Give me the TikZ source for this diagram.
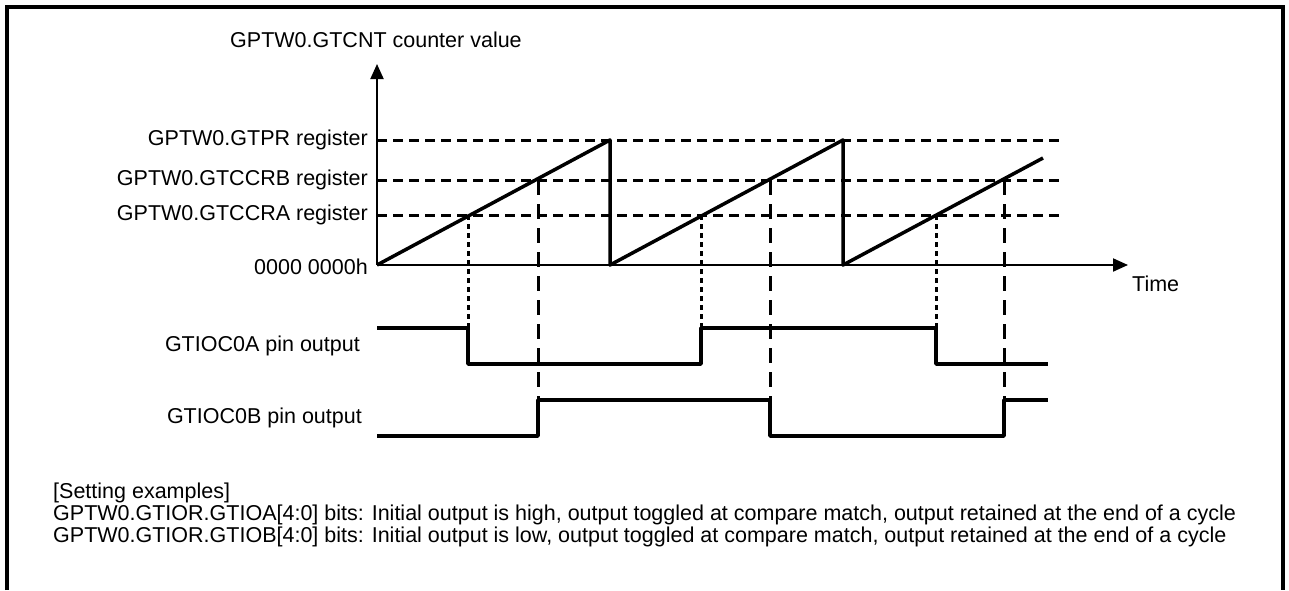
\documentclass[tikz,border=0pt]{standalone}
\usepackage{fontspec}
\setmainfont{Liberation Sans}
\usepackage{tikz}
\usetikzlibrary{arrows.meta,positioning}

\begin{document}
\begin{tikzpicture}[x=1pt, y=-1pt, font=\fontsize{21.5}{23}\selectfont]
    % Styles
    \tikzstyle{txt} = [inner sep=0pt, text height=15pt, text depth=4pt]
    \tikzstyle{reglabel} = [txt, anchor=east]
    \tikzstyle{axisline} = [draw, line width=2pt, -{Triangle[length=15pt,width=13pt]}]
    \tikzstyle{reflevel} = [draw, line width=3pt, dash pattern=on 10pt off 6pt]
    \tikzstyle{wave} = [draw, line width=3.5pt, line join=round]
    \tikzstyle{matcha} = [draw, line width=3pt, dash pattern=on 5pt off 4pt]
    \tikzstyle{matchb} = [draw, line width=3pt, dash pattern=on 15pt off 9pt]

    \useasboundingbox (0,0) rectangle (1289,590);

    % Frame
    \draw[line width=3.5pt] (7,590) -- (7,7) -- (1283,7) -- (1283,590);

    % Axes
    \coordinate (origin) at (377,265);
    \coordinate (ytip) at (377,64);
    \coordinate (xtip) at (1128,265);
    \node[txt, anchor=west] (ytitle) at (230,42) {GPTW0.GTCNT counter value};
    \node[txt, anchor=west] (time) at (1132,286) {Time};

    % Register levels
    \foreach \y/\name/\txt in {140/gtpr/GPTW0.GTPR register,
                               180/gtccrb/GPTW0.GTCCRB register,
                               215/gtccra/GPTW0.GTCCRA register} {
        \node[reglabel] (\name) at (368,\y) {\txt};
        \path[reflevel] (377,\y) -- (1060,\y);
    }
    \node[reglabel] (zero) at (368,269) {0000 0000h};

    \path[axisline] (origin) -- (ytip);
    \path[axisline] (origin) -- (xtip);

    % Counter
    \path[wave] (origin) -- (610,140) -- (610,265) -- (843,140) -- (843,265) -- (1043,158);

    % Compare matches
    \foreach \x in {468,701,936}
        \path[matcha] (\x,215) -- (\x,328);
    \foreach \x in {538,770,1004}
        \path[matchb] (\x,180) -- (\x,400);

    % Pin outputs
    \node[reglabel] (pina) at (360,346) {GTIOC0A pin output};
    \node[reglabel] (pinb) at (362,418) {GTIOC0B pin output};
    \path[wave] (377,328) -- (468,328) -- (468,364) -- (701,364) -- (701,328)
        -- (936,328) -- (936,364) -- (1048,364);
    \path[wave] (377,436) -- (538,436) -- (538,400) -- (770,400) -- (770,436)
        -- (1004,436) -- (1004,400) -- (1048,400);

    % Notes
    \node[txt, anchor=west] (note1) at (53,493) {[Setting examples]};
    \node[txt, anchor=west] (note2) at (53,515) {GPTW0.GTIOR.GTIOA[4:0] bits: Initial output is high, output toggled at compare match, output retained at the end of a cycle};
    \node[txt, anchor=west] (note3) at (53,537) {GPTW0.GTIOR.GTIOB[4:0] bits: Initial output is low, output toggled at compare match, output retained at the end of a cycle};
\end{tikzpicture}
\end{document}
